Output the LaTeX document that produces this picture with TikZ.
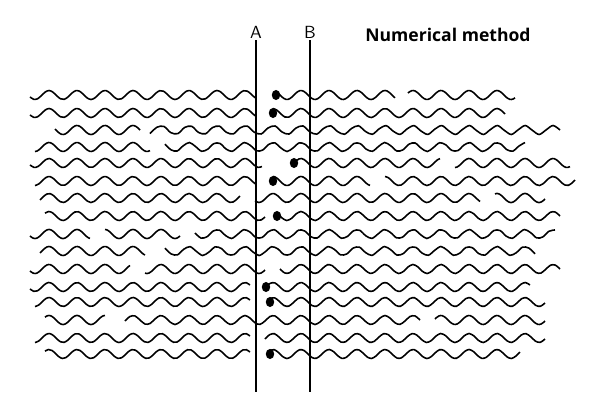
\documentclass[tikz,border=0pt]{standalone}
\usepackage{fontspec}
\newfontfamily\titlefont{Open Sans}
\tikzset{
  chain/.style={line width=0.9pt},
  dot/.style={ellipse,fill=black,inner sep=0pt,minimum width=4.8pt,minimum height=5.8pt},
  plane/.style={line width=0.8pt}
}
\usetikzlibrary{shapes.geometric}
\begin{document}
\begin{tikzpicture}[x=0.02cm,y=-0.02cm]
  \useasboundingbox (0,0) rectangle (600,400);
  % chains, row by row
  \foreach \y/\segs in {
      95/{30/255,278/395,408/515},
      113/{30/255,273/505},
      130/{55/140,150/560},
      147/{35/150,165/525},
      163/{30/262,294/440,455/570},
      181/{35/255,273/370,385/575},
      198/{40/240,255/480,495/545},
      216/{45/265,277/560},
      234/{30/90,105/180,195/555},
      251/{40/145,165/535},
      269/{30/130,145/265,280/560},
      287/{30/250,266/530},
      302/{35/250,270/545},
      320/{45/105,125/420,435/545},
      338/{35/250,265/545},
      354/{45/250,270/520}} {
    \foreach \a/\b in \segs
      \draw[chain] plot[domain=\a:\b,samples=60,smooth] (\x,{\y+4.5*sin(\x/28*360)});
  }
  % planes
  \draw[plane] (256,40) -- (256,392);
  \draw[plane] (310,40) -- (310,392);
  \node (A) at (256,32) {\sffamily A};
  \node (B) at (310,32) {\sffamily B};
  \node (title) at (448,35) {\titlefont\bfseries Numerical method};
  % chain ends
  \foreach \x/\y [count=\i] in {276/95,273/113,294/163,273/181,277/216,266/287,270/302,270/354}
    \node[dot] (e\i) at (\x,\y) {};
\end{tikzpicture}
\end{document}
